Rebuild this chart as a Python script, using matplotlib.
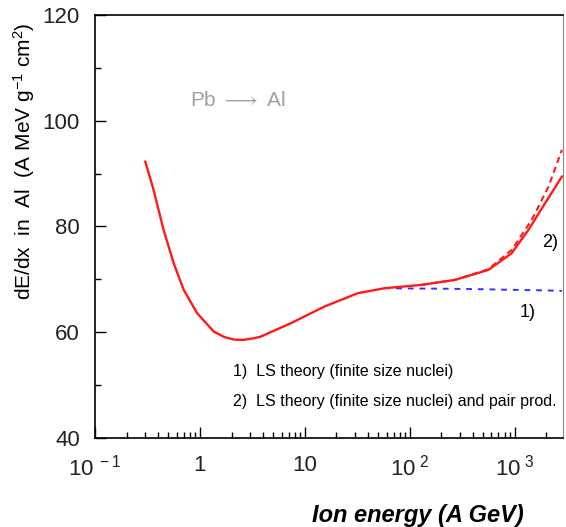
import numpy as np
import matplotlib.pyplot as plt
from matplotlib.ticker import LogLocator, FixedLocator, NullFormatter

plt.rcParams['font.family'] = ['Liberation Sans', 'DejaVu Sans']
plt.rcParams['mathtext.fontset'] = 'custom'
plt.rcParams['mathtext.rm'] = 'Liberation Sans'
plt.rcParams['mathtext.it'] = 'Liberation Sans:italic'
plt.rcParams['mathtext.bf'] = 'Liberation Sans:bold'

# -----------------------------------
# DATA
# -----------------------------------

# 2) LS theory (finite size nuclei) and pair prod., solid red
energy_solid = [0.301, 0.361, 0.450, 0.561, 0.700, 0.940, 1.356, 1.7,
                2.106, 2.6, 3.272, 3.793, 7.345, 15.3, 31.9, 57.4, 128.8,
                268.4, 560, 936, 1352, 1950, 2818]
dedx_solid = [92.25, 86.9, 79.34, 73.04, 67.99, 63.58, 60.10, 59.1,
              58.6, 58.55, 58.86, 59.16, 61.69, 64.83, 67.37, 68.31, 68.94,
              69.88, 71.77, 74.93, 79.34, 84.39, 89.42]

# dashed red (upper high-energy branch)
energy_dashed = [128.8, 268.4, 560, 936, 1455, 2102, 2818]
dedx_dashed = [68.94, 69.88, 71.9, 75.56, 81.23, 87.53, 94.47]

# 1) LS theory (finite size nuclei), blue dashed
energy_ls = [57.4, 128.8, 268.4, 560, 1000, 2000, 2818]
dedx_ls = [68.31, 68.25, 68.2, 68.1, 68.0, 67.9, 67.8]

x_ticks = [0.1, 1, 10, 100, 1000]
x_tick_labels = [r'$10^{\ -1}$', '1', '10', r'$10^{\ 2}$', r'$10^{\ 3}$']
y_ticks = [40, 60, 80, 100, 120]
y_minor_ticks = [50, 70, 90, 110]

# -----------------------------------
# FIGURE
# -----------------------------------

fig = plt.figure(figsize=(5.66, 5.27), dpi=100)
ax = fig.add_axes([0.168, 0.169, 0.827, 0.8027])

ax.plot(energy_ls, dedx_ls, color='#3333ff', linestyle=(0, (3, 3)), linewidth=1.4)
ax.plot(energy_dashed, dedx_dashed, color='#ff1a1a', linestyle=(0, (3, 2)), linewidth=1.5)
ax.plot(energy_solid, dedx_solid, color='#ff1a1a', linewidth=1.7)

ax.set_xscale('log')
ax.set_xlim(0.1, 2900)
ax.set_ylim(40, 120)

ax.xaxis.set_major_locator(FixedLocator(x_ticks))
ax.set_xticklabels(x_tick_labels)
ax.xaxis.set_minor_locator(LogLocator(base=10, subs=np.arange(2, 10)))
ax.xaxis.set_minor_formatter(NullFormatter())

ax.set_yticks(y_ticks)
ax.yaxis.set_minor_locator(FixedLocator(y_minor_ticks))

ax.tick_params(axis='both', which='major', direction='in', length=8,
               width=1.0, labelsize=16, labelcolor='#222222',
               top=False, right=False)
ax.tick_params(axis='both', which='minor', direction='in', length=4,
               width=1.0, top=False, right=False)
ax.tick_params(axis='x', pad=12)
ax.tick_params(axis='y', pad=11)

for side in ['left', 'bottom', 'top']:
    ax.spines[side].set_linewidth(1.2)
ax.spines['right'].set_color('#888888')

ax.set_ylabel(r'dE/dx  in  Al  (A MeV g$^{-1}$ cm$^{2}$)', fontsize=15)
ax.yaxis.set_label_coords(-0.125, 0.655)
ax.set_xlabel('Ion energy (A GeV)', fontsize=17, fontweight='bold',
              fontstyle='italic')
ax.xaxis.set_label_coords(0.69, -0.155)

ax.text(0.81, 103.9, r'Pb $\longrightarrow$ Al', fontsize=15,
        color='#a0a0a0', va='center')
ax.text(1811, 76.9, '2)', fontsize=13, va='center')
ax.text(1117, 63.8, '1)', fontsize=13, va='center')
ax.text(2.05, 52.5, '1)  LS theory (finite size nuclei)', fontsize=11.5,
        va='center')
ax.text(2.05, 46.8, '2)  LS theory (finite size nuclei) and pair prod.',
        fontsize=11.5, va='center', clip_on=True)

fig.savefig('out.png', dpi=100)
